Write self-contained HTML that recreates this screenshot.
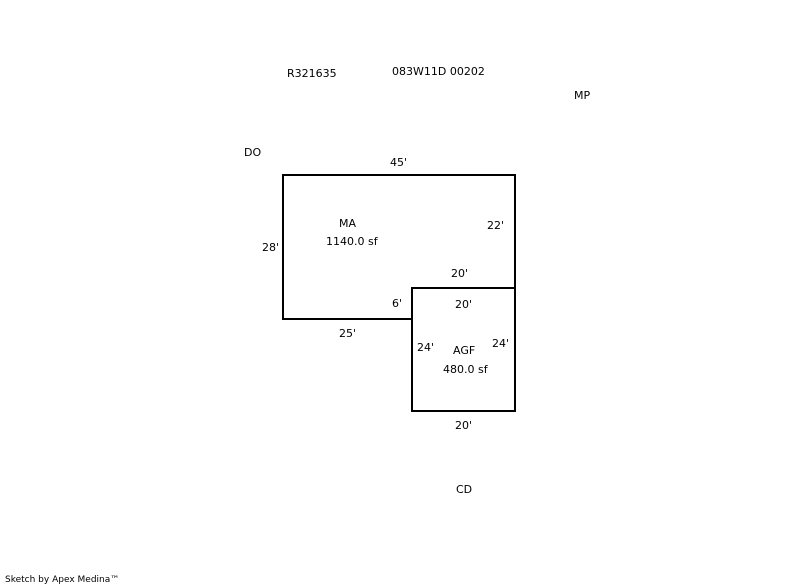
<!DOCTYPE html>
<html><head><style>
body{margin:0;width:800px;height:587px;background:#fff;overflow:hidden;position:relative;font-family:"DejaVu Sans","Liberation Sans",sans-serif;font-size:11px;color:#000}
.t{position:absolute;white-space:nowrap;line-height:12px}
</style></head><body>
<svg width="800" height="587" style="position:absolute;left:0;top:0">
<path d="M283 175 H515 V288 H412 V319 H283 Z" fill="none" stroke="#000" stroke-width="2"/>
<path d="M412 288 H515 V411 H412 Z" fill="none" stroke="#000" stroke-width="2"/>
</svg>
<div class="t" style="left:287px;top:68px">R321635</div>
<div class="t" style="left:392px;top:66px">083W11D 00202</div>
<div class="t" style="left:574px;top:90px">MP</div>
<div class="t" style="left:244px;top:147px">DO</div>
<div class="t" style="left:390px;top:157px">45'</div>
<div class="t" style="left:339px;top:218px">MA</div>
<div class="t" style="left:326px;top:236px">1140.0 sf</div>
<div class="t" style="left:487px;top:220px">22'</div>
<div class="t" style="left:262px;top:242px">28'</div>
<div class="t" style="left:451px;top:268px">20'</div>
<div class="t" style="left:392px;top:298px">6'</div>
<div class="t" style="left:455px;top:299px">20'</div>
<div class="t" style="left:339px;top:328px">25'</div>
<div class="t" style="left:417px;top:342px">24'</div>
<div class="t" style="left:453px;top:345px">AGF</div>
<div class="t" style="left:492px;top:338px">24'</div>
<div class="t" style="left:443px;top:364px">480.0 sf</div>
<div class="t" style="left:455px;top:420px">20'</div>
<div class="t" style="left:456px;top:484px">CD</div>
<div class="t" style="left:5px;top:574px;font-size:9px">Sketch by Apex Medina™</div>
</body></html>
